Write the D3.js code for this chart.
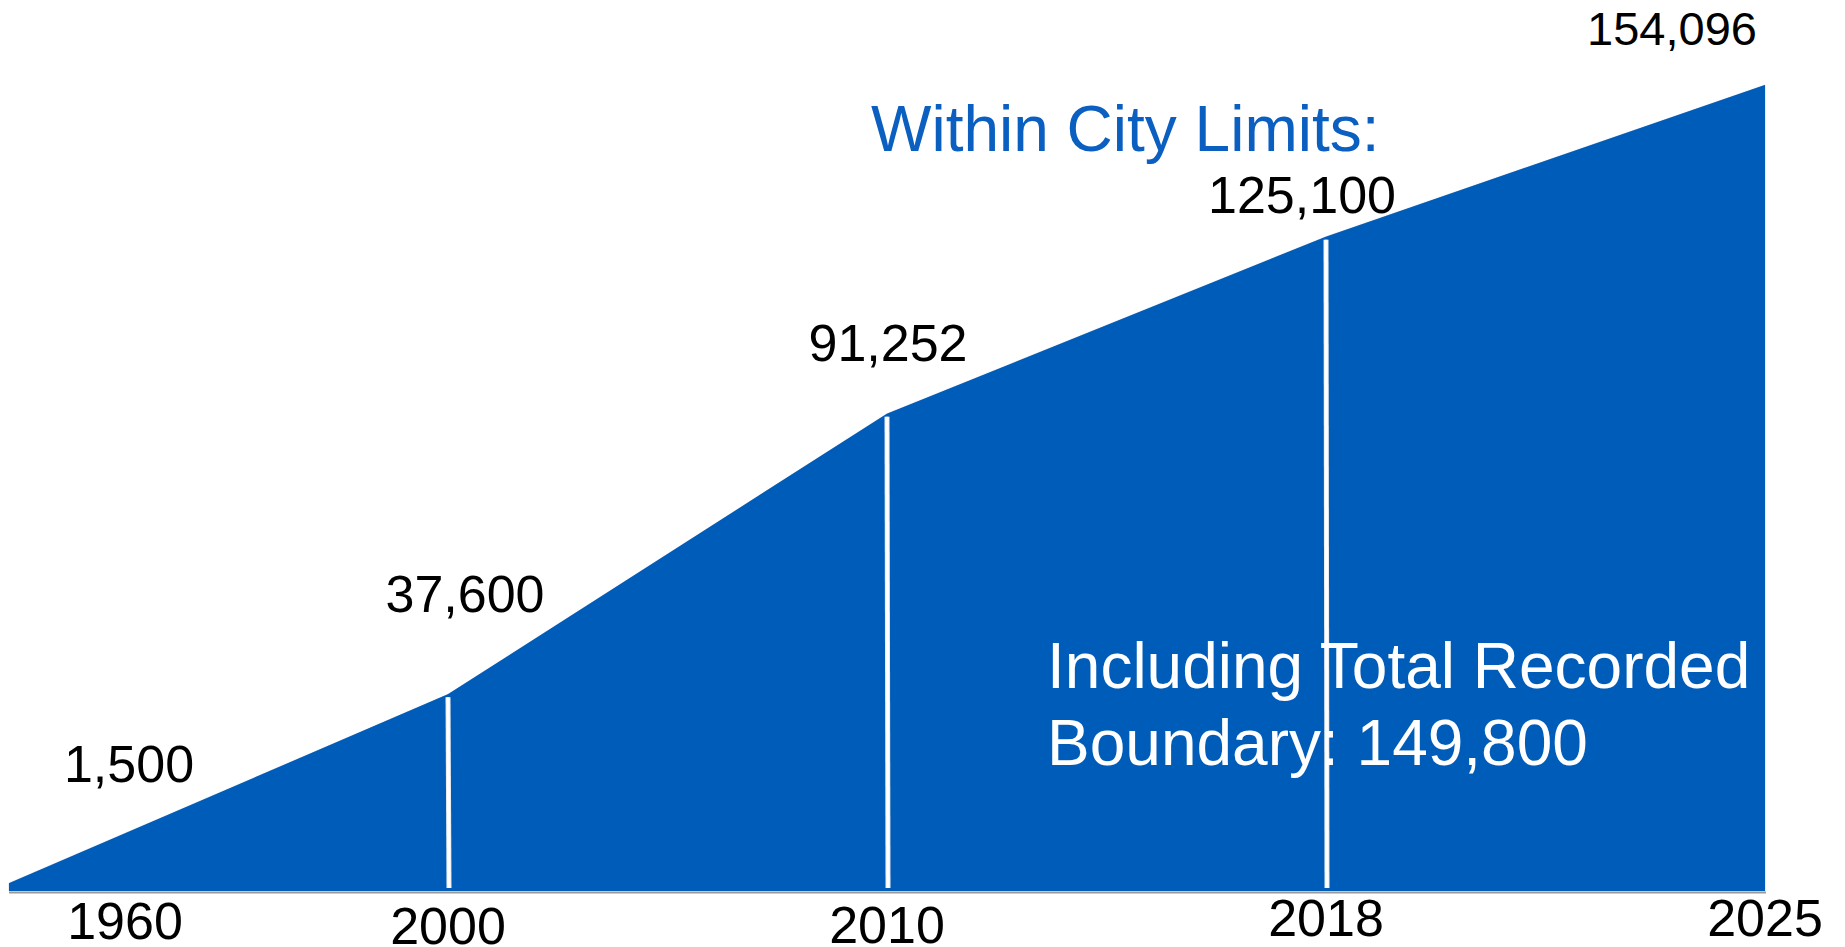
<!DOCTYPE html>
<html>
<head>
<meta charset="utf-8">
<script src="https://cdn.jsdelivr.net/npm/d3@7"></script>
<style>
  body { margin: 0; background: #fff; }
  text { font-family: "Liberation Sans", Arial, sans-serif; }
</style>
</head>
<body>
<div id="chart"></div>
<script>
  ///////////////////////////////////////////////////////////////////////////
  ///////////////////////////////// Data ////////////////////////////////////
  ///////////////////////////////////////////////////////////////////////////
  var years = ["1960", "2000", "2010", "2018", "2025"]
  var population = [1500, 37600, 91252, 125100, 154096]
  var valueLabels = ["1,500", "37,600", "91,252", "125,100", "154,096"]
  var titleText = "Within City Limits:"
  var noteLines = ["Including Total Recorded", "Boundary: 149,800"]

  ///////////////////////////////////////////////////////////////////////////
  //////////////////////////////// Layout ///////////////////////////////////
  ///////////////////////////////////////////////////////////////////////////
  var width = 1845, height = 947
  var baseY = 891
  var blue = "#005cb9"

  // nudges for the value labels, relative to their point (dx, dy)
  var valueNudge = [[120, -101], [17, -82], [1, -53], [-24, -24], [-93, -40]]
  var valueSize = [52, 52, 52, 52, 47]
  var yearNudge = [[116, 48], [0, 53], [0, 52], [0, 45], [0, 45]]

  var svg = d3.select("#chart").append("svg")
    .attr("width", width)
    .attr("height", height)

  var x = d3.scalePoint()
    .domain(years)
    .range([9, 1765])

  var y = d3.scaleLinear()
    .domain([0, d3.max(population)])
    .range([baseY, 85])

  var data = years.map((d, i) => ({ year: d, value: population[i], label: valueLabels[i], i: i }))

  // soft shadow under the baseline
  svg.append("line")
    .attr("x1", x(years[0])).attr("x2", x(years[years.length - 1]) + 1)
    .attr("y1", baseY + 1.5).attr("y2", baseY + 1.5)
    .attr("stroke", "#9a9a9a").attr("stroke-width", 2)

  var area = d3.area()
    .x(d => x(d.year))
    .y0(baseY)
    .y1(d => y(d.value))

  svg.append("path")
    .datum(data)
    .attr("d", area)
    .attr("fill", blue)
    .attr("stroke", "#b8c4d6")
    .attr("stroke-width", 0.6)

  svg.append("path")
    .datum(data)
    .attr("d", area)
    .attr("fill", blue)

  // white dividers at the inner points
  var inner = data.slice(1, -1)
  svg.selectAll(".divider")
    .data(inner)
    .enter().append("line")
      .attr("class", "divider")
      .attr("x1", d => x(d.year)).attr("x2", d => x(d.year) + 1)
      .attr("y1", d => y(d.value) + 3)
      .attr("y2", baseY - 3)
      .attr("stroke", "#e8ecf2")
      .attr("stroke-width", 5)
  svg.selectAll(".divider2")
    .data(inner)
    .enter().append("line")
      .attr("class", "divider2")
      .attr("x1", d => x(d.year)).attr("x2", d => x(d.year) + 1)
      .attr("y1", d => y(d.value) + 3)
      .attr("y2", baseY - 3)
      .attr("stroke", "#fff")
      .attr("stroke-width", 3)

  // value labels
  svg.selectAll(".val")
    .data(data)
    .enter().append("text")
      .attr("class", "val")
      .attr("x", d => x(d.year) + valueNudge[d.i][0])
      .attr("y", d => y(d.value) + valueNudge[d.i][1])
      .attr("text-anchor", "middle")
      .attr("font-size", d => valueSize[d.i])
      .attr("fill", "#000")
      .text(d => d.label)

  // year labels
  svg.selectAll(".yr")
    .data(data)
    .enter().append("text")
      .attr("class", "yr")
      .attr("x", d => x(d.year) + yearNudge[d.i][0])
      .attr("y", d => baseY + yearNudge[d.i][1])
      .attr("text-anchor", "middle")
      .attr("font-size", 52)
      .attr("fill", "#000")
      .text(d => d.year)

  svg.append("text")
    .attr("x", 871).attr("y", 151)
    .attr("font-size", 64)
    .attr("fill", "#0a5fc0")
    .text(titleText)

  svg.selectAll(".note")
    .data(noteLines)
    .enter().append("text")
      .attr("class", "note")
      .attr("x", 1047)
      .attr("y", (d, i) => 688 + i * 77)
      .attr("font-size", 64)
      .attr("fill", "#fff")
      .text(d => d)
</script>
</body>
</html>
